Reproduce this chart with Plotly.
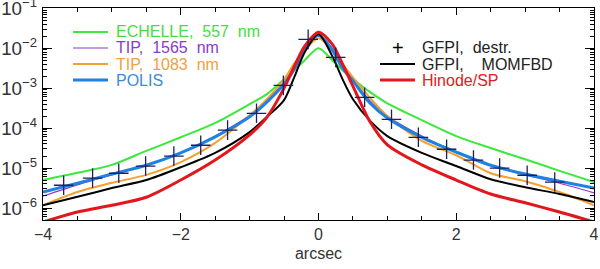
import plotly.graph_objects as go

# arcsec positions shared by the curves
x_arcsec = [-4, -3.5, -3, -2.5, -2, -1.5, -1, -0.75, -0.5, -0.35, -0.2, 0,
            0.2, 0.35, 0.5, 0.75, 1, 1.5, 2, 2.5, 3, 3.5, 4]

# log10 of the normalised intensity
echelle_557 = [-5.3, -5.12, -4.92, -4.57, -4.23, -3.87, -3.4, -3.15, -2.78, -2.55, -2.3, -2.0,
               -2.3, -2.55, -2.77, -3.1, -3.38, -3.8, -4.2, -4.5, -4.78, -5.07, -5.35]
tip_1565 = [-5.7, -5.42, -5.17, -4.93, -4.62, -4.2, -3.68, -3.3, -2.85, -2.5, -2.0, -1.7,
            -2.0, -2.45, -2.8, -3.32, -3.7, -4.2, -4.6, -4.93, -5.17, -5.38, -5.62]
tip_1083 = [-5.93, -5.6, -5.37, -5.17, -4.85, -4.37, -3.68, -3.28, -2.78, -2.38, -2.05, -1.75,
            -2.05, -2.4, -2.73, -3.25, -3.7, -4.32, -4.68, -5.13, -5.33, -5.6, -5.93]
polis = [-5.6, -5.38, -5.15, -4.93, -4.62, -4.22, -3.72, -3.35, -2.9, -2.52, -2.0, -1.68,
         -2.05, -2.5, -2.82, -3.38, -3.75, -4.23, -4.6, -4.93, -5.15, -5.33, -5.5]
gfpi_momfbd = [-5.93, -5.72, -5.5, -5.3, -4.98, -4.62, -4.1, -3.72, -3.3, -2.72, -2.1, -1.65,
               -2.2, -2.78, -3.28, -3.82, -4.2, -4.62, -4.95, -5.28, -5.48, -5.65, -5.85]
hinode_sp = [-6.35, -6.1, -5.93, -5.73, -5.3, -4.8, -4.17, -3.73, -3.0, -2.45, -1.95, -1.6,
             -1.9, -2.4, -2.95, -3.85, -4.42, -4.92, -5.3, -5.65, -5.87, -6.1, -6.35]

# GFPI destretched (crosses)
cross_x = [-3.70, -3.28, -2.90, -2.51, -2.10, -1.71, -1.32, -0.90, -0.51, -0.15,
           0.25, 0.67, 1.06, 1.45, 1.86, 2.25, 2.63, 3.03, 3.43]
cross_log = [-5.43, -5.25, -5.13, -4.95, -4.70, -4.43, -4.05, -3.63, -2.93, -1.78,
             -2.23, -3.23, -3.78, -4.23, -4.53, -4.80, -5.00, -5.18, -5.35]

x_ticks = [-4, -2, 0, 2, 4]

GREEN = "#3BE83B"
PURPLE = "#8E3ACF"
ORANGE = "#F4A030"
BLUE = "#1E82E0"
BLACK = "#000000"
RED = "#E3161B"
NAVY = "#1E1E64"


def lin(vals):
    return [10 ** v for v in vals]


fig = go.Figure()
series = [
    (echelle_557, GREEN, 2),
    (tip_1565, PURPLE, 1.2),
    (tip_1083, ORANGE, 2),
    (polis, BLUE, 3),
    (gfpi_momfbd, BLACK, 2),
    (hinode_sp, RED, 3),
]
for vals, col, w in series:
    fig.add_trace(go.Scatter(x=x_arcsec, y=lin(vals), mode="lines",
                             line=dict(color=col, width=w, shape="spline", smoothing=0.8),
                             showlegend=False, hoverinfo="skip"))
fig.add_trace(go.Scatter(x=cross_x, y=lin(cross_log), mode="markers",
                         marker=dict(symbol="cross-thin", size=14,
                                     line=dict(color=NAVY, width=1.3)),
                         showlegend=False, hoverinfo="skip"))

FONT = "Liberation Sans"
TXT = "#333333"

fig.update_layout(
    width=600, height=269,
    margin=dict(l=43, r=6, t=8, b=49),
    paper_bgcolor="white", plot_bgcolor="white",
    font=dict(family=FONT, size=16, color=TXT),
    xaxis=dict(range=[-4, 4], tickvals=x_ticks,
               ticktext=[("\u2212" + str(-v)) if v < 0 else str(v) for v in x_ticks],
               ticks="inside", ticklen=7, tickcolor="black", mirror="allticks",
               showline=True, linecolor="black", linewidth=1, showgrid=False, zeroline=False,
               automargin=False, ticklabeloverflow="allow",
               minor=dict(dtick=0.5, ticks="inside", ticklen=4, tickcolor="black", showgrid=False),
               title=dict(text="arcsec", font=dict(size=16, color=TXT), standoff=5),
               tickfont=dict(size=16, color=TXT)),
    yaxis=dict(type="log", range=[-6.3, -0.995], dtick=1, exponentformat="power",
               ticks="inside", ticklen=9, tickcolor="black", mirror="allticks",
               showline=True, linecolor="black", linewidth=1, showgrid=False, zeroline=False,
               automargin=False, ticklabeloverflow="allow", ticklabelstandoff=2,
               minor=dict(dtick="D1", ticks="inside", ticklen=4, tickcolor="black", showgrid=False),
               tickfont=dict(size=15, color=TXT)),
)

# legend (left block)
left_items = [
    ("ECHELLE,\u00a0\u00a0557\u00a0\u00a0nm", GREEN, 2, "#44DD44"),
    ("TIP,\u00a0\u00a01565\u00a0\u00a0nm", PURPLE, 1.2, "#8A3ACC"),
    ("TIP,\u00a0\u00a01083\u00a0\u00a0nm", ORANGE, 2, "#F0A040"),
    ("POLIS", BLUE, 3, "#3A8ADC"),
]
rows = [32, 48, 64, 80]


def py2paper(py):
    return (220 - py) / 212.0


def px2paper(px):
    return (px - 43) / 551.0


for (label, col, w, tcol), py in zip(left_items, rows):
    yy = py2paper(py)
    fig.add_shape(type="line", xref="paper", yref="paper",
                  x0=px2paper(73), x1=px2paper(108), y0=yy, y1=yy,
                  line=dict(color=col, width=w))
    fig.add_annotation(xref="paper", yref="paper", x=px2paper(114), y=yy,
                       text=label, showarrow=False, xanchor="left", yanchor="middle",
                       font=dict(size=16, color=tcol, family=FONT))

# legend (right block)
yy = py2paper(48)
fig.add_annotation(xref="paper", yref="paper", x=px2paper(398), y=yy, text="+",
                   showarrow=False, xanchor="center", yanchor="middle",
                   font=dict(size=20, color=BLACK, family=FONT))
fig.add_annotation(xref="paper", yref="paper", x=px2paper(420), y=yy,
                   text="GFPI,\u00a0\u00a0destr.", showarrow=False, xanchor="left",
                   yanchor="middle", font=dict(size=16, color="#222222", family=FONT))
for label, col, w, tcol, py in [
    ("GFPI,\u00a0\u00a0\u00a0\u00a0MOMFBD", BLACK, 2, "#222222", 64),
    ("Hinode/SP", RED, 3, "#E02020", 80),
]:
    yy = py2paper(py)
    fig.add_shape(type="line", xref="paper", yref="paper",
                  x0=px2paper(380), x1=px2paper(415), y0=yy, y1=yy,
                  line=dict(color=col, width=w))
    fig.add_annotation(xref="paper", yref="paper", x=px2paper(420), y=yy,
                       text=label, showarrow=False, xanchor="left", yanchor="middle",
                       font=dict(size=16, color=tcol, family=FONT))

fig.write_html("out.html", config={"displayModeBar": False},
               post_script="document.body.style.margin='0';document.body.style.overflow='hidden';")
